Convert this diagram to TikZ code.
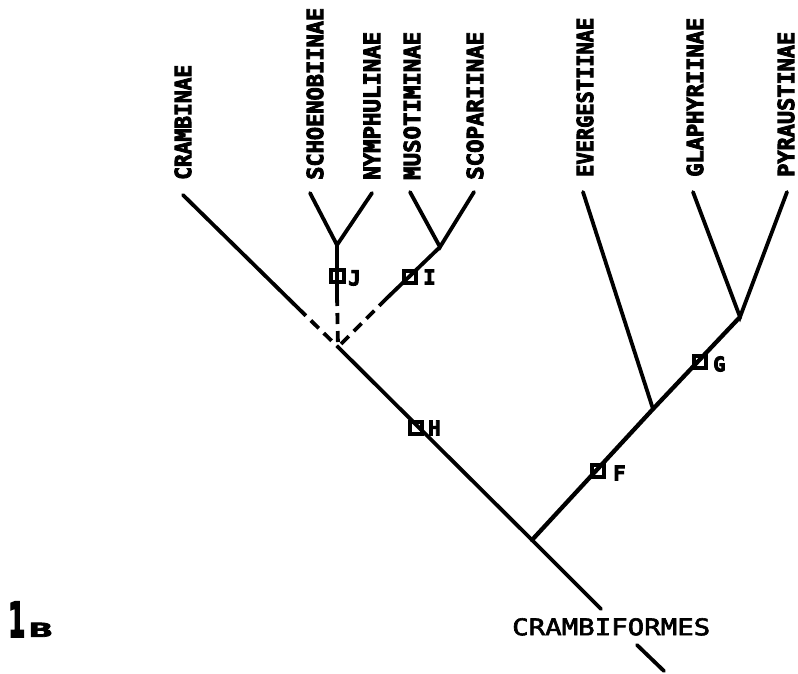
\documentclass[tikz,border=0pt]{standalone}
\usepackage{fontspec}
\usepackage{graphicx}
\newfontfamily\plotbold[FakeBold=4]{DejaVu Sans Mono Bold}
\newfontfamily\plotreg[FakeBold=2.5]{DejaVu Sans Mono}
\newfontfamily\plotsans[FakeBold=4]{DejaVu Sans Bold}
% taxon label: bold plotter lettering squeezed to a given length
\newcommand\taxon[2]{\resizebox{#2pt}{16.5pt}{\plotbold #1}}
\newcommand\cladename[1]{\resizebox{!}{15pt}{\plotbold #1}}
\begin{document}
\begin{tikzpicture}[x=1pt,y=-1pt,
  br/.style={line width=3.8pt,line cap=round},
  thick br/.style={line width=4.3pt,line cap=round},
  dsh/.style={line width=3.8pt,dash pattern=on 11pt off 7pt},
  mk/.style={draw,rectangle,line width=4.2pt,minimum size=12.5pt,inner sep=0pt},
  lab/.style={rotate=90,anchor=west,inner sep=0pt},
  cl/.style={inner sep=0pt}]
\useasboundingbox (0,0) rectangle (798,673);

% terminal taxa
\node[lab] (lCramb) at (183,180) {\taxon{CRAMBINAE}{115}};
\node[lab] (lSchoe) at (315,180) {\taxon{SCHOENOBIINAE}{172}};
\node[lab] (lNymph) at (372,180) {\taxon{NYMPHULINAE}{148}};
\node[lab] (lMusot) at (412,180) {\taxon{MUSOTIMINAE}{148}};
\node[lab] (lScopa) at (475,180) {\taxon{SCOPARIINAE}{148}};
\node[lab] (lEverg) at (585,177) {\taxon{EVERGESTIINAE}{159}};
\node[lab] (lGlaph) at (695,177) {\taxon{GLAPHYRIINAE}{159}};
\node[lab] (lPyrau) at (786,177) {\taxon{PYRAUSTINAE}{145}};

% branch tips
\coordinate (tCramb) at (183,195);
\coordinate (tSchoe) at (310,193);
\coordinate (tNymph) at (372,193);
\coordinate (tMusot) at (410,192);
\coordinate (tScopa) at (474,192);
\coordinate (tEverg) at (583,192);
\coordinate (tGlaph) at (693,192);
\coordinate (tPyrau) at (787,192);

% internal points
\coordinate (nJ) at (337,245);
\coordinate (nI) at (440,247);
\coordinate (nG) at (740,317);
\coordinate (nE) at (653,409);
\coordinate (root) at (532,540);
\coordinate (P) at (338,347);
\coordinate (cEnd) at (298,308);
\coordinate (jEnd) at (337,295);
\coordinate (iEnd) at (387,298);
\coordinate (rUp) at (601,609);
\coordinate (rLo1) at (637,645);
\coordinate (rLo2) at (664,671);

% solid branches
\draw[br] (tCramb) -- (cEnd);
\draw[br] (tSchoe) -- (nJ) -- (tNymph);
\draw[br] (nJ) -- (jEnd);
\draw[br] (tMusot) -- (nI) -- (tScopa);
\draw[br] (nI) -- (iEnd);
\draw[br] (P) -- (root) -- (rUp);
\draw[br] (rLo1) -- (rLo2);
\draw[thick br] (root) -- (nE) -- (nG);
\draw[br] (tEverg) -- (nE);
\draw[br] (tGlaph) -- (nG) -- (tPyrau);

% uncertain connections, dashed
\draw[dsh] (cEnd) -- (P);
\draw[dsh] (jEnd) -- (P);
\draw[dsh] (iEnd) -- (P);

% character markers
\node[mk] (bJ) at (337.5,276) {};
\node[mk] (bI) at (410,277) {};
\node[mk] (bH) at (416,428) {};
\node[mk] (bF) at (598,471) {};
\node[mk] (bG) at (700,362) {};
\node[cl,anchor=west] (kJ) at (348,278) {\cladename{J}};
\node[cl,anchor=west] (kI) at (423,277) {\cladename{I}};
\node[cl,anchor=west] (kH) at (428,428) {\cladename{H}};
\node[cl,anchor=west] (kF) at (613,473) {\cladename{F}};
\node[cl,anchor=west] (kG) at (713,364) {\cladename{G}};

% root label and figure number
\node[cl,anchor=north west] (lRoot) at (512,618) {\resizebox{198pt}{17pt}{\plotreg CRAMBIFORMES}};
\node[cl,anchor=south west] (fig1) at (8,637) {\resizebox{17pt}{35pt}{\plotsans 1}};
\node[cl,anchor=south west] (figB) at (29,637) {\resizebox{23pt}{14pt}{\plotbold B}};
\end{tikzpicture}
\end{document}
